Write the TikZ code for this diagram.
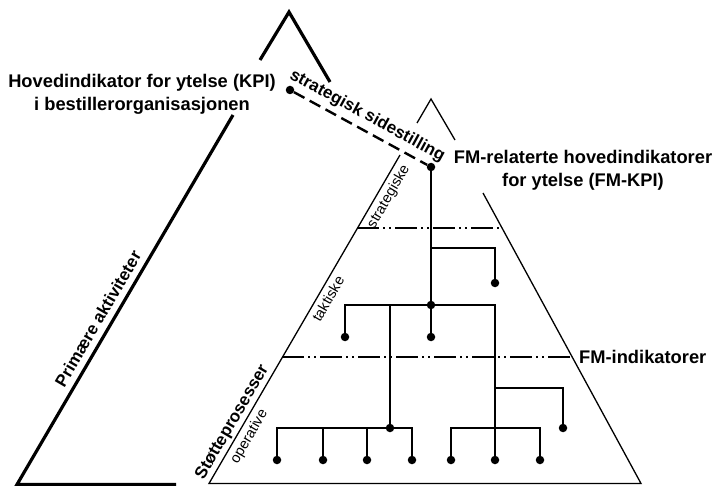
\documentclass[tikz,border=0pt]{standalone}
\usepackage{fontspec}
\setmainfont{Liberation Sans}
\usetikzlibrary{positioning}
\usetikzlibrary{calc}

\begin{document}
\begin{tikzpicture}[x=1pt, y=-1pt,
				big/.style={line width=3.2pt},
				small/.style={line width=1.3pt},
				tree/.style={line width=2pt},
				dot/.style={circle, fill, inner sep=0pt, minimum size=8.5pt},
				level/.style={line width=1.2pt, dash pattern=on 22pt off 4pt on 2pt off 4pt on 2pt off 4pt},
				dashline/.style={line width=2.4pt, dash pattern=on 12pt off 6pt},
				lbl/.style={font=\fontsize{17}{23}\selectfont\bfseries, align=center, inner sep=0pt},
				head/.style={lbl, font=\fontsize{18.3}{23}\selectfont\bfseries},
				sub/.style={font=\fontsize{14.5}{16}\selectfont, inner sep=0pt}]

				\useasboundingbox (0,0) rectangle (719,486);

				\draw[big] (260,60) -- (289,12) -- (330,82);
				\draw[big] (176,484.5) -- (17,484.5) -- node[pos=0.43, sloped, above=6pt, lbl] {Primære aktiviteter} (233,115);

				\draw[small] (417,123) -- (431,99) -- (455,140);
				\draw[small] (483,193) -- (641,483.5) -- (209,483.5) -- node[pos=0.17, sloped, above=2pt, lbl] {Støtteprosesser} node[pos=0.16, sloped, below=4pt, sub] {operative} node[pos=0.578, sloped, below=4pt, sub] {taktiske} node[pos=0.89, sloped, below=4pt, sub] {strategiske} (400,155);

				\draw[level] (357,228) -- (501,228);
				\draw[level] (282,357) -- (571,357);

				\node[head] (node1) at (142,94) {Hovedindikator for ytelse (KPI)\\i bestillerorganisasjonen};
				\node[head] (node2) at (583,170) {FM-relaterte hovedindikatorer\\for ytelse (FM-KPI)};
				\node[head, anchor=west] (node3) at (579,357) {FM-indikatorer};

				\node[dot] (d1) at (431,167) {};
				\node[dot] (d2) at (290,90) {};
				\node[dot] (d3) at (431,305) {};
				\node[dot] (d4) at (495,283) {};
				\node[dot] (d5) at (345,337) {};
				\node[dot] (d6) at (431,337) {};
				\node[dot] (d7) at (390,428) {};
				\node[dot] (d8) at (563,428) {};
				\node[dot] (d9) at (277,460) {};
				\node[dot] (d10) at (323,460) {};
				\node[dot] (d11) at (367,460) {};
				\node[dot] (d12) at (412,460) {};
				\node[dot] (d13) at (451,460) {};
				\node[dot] (d14) at (495,460) {};
				\node[dot] (d15) at (540,460) {};
				\coordinate (c1) at (431,248);
				\coordinate (c2) at (390,305);
				\coordinate (c3) at (495,388);
				\coordinate (c4) at (495,428);

				\draw[dashline] (d2) -- node[sloped, above=5pt, lbl] {strategisk sidestilling} (d1);

				\draw[tree] (d1) -- (d3);
				\draw[tree] (c1) -| (d4);
				\draw[tree] (d3) -| (d5);
				\draw[tree] (d3) -- (d6);
				\draw[tree] (d3) -| (d14);
				\draw[tree] (c2) -- (d7);
				\draw[tree] (c3) -| (d8);
				\draw[tree] (d7) -| (d9);
				\draw[tree] (d7) -| (d10);
				\draw[tree] (d7) -| (d11);
				\draw[tree] (d7) -| (d12);
				\draw[tree] (c4) -| (d13);
				\draw[tree] (c4) -| (d15);

			\end{tikzpicture}
\end{document}
